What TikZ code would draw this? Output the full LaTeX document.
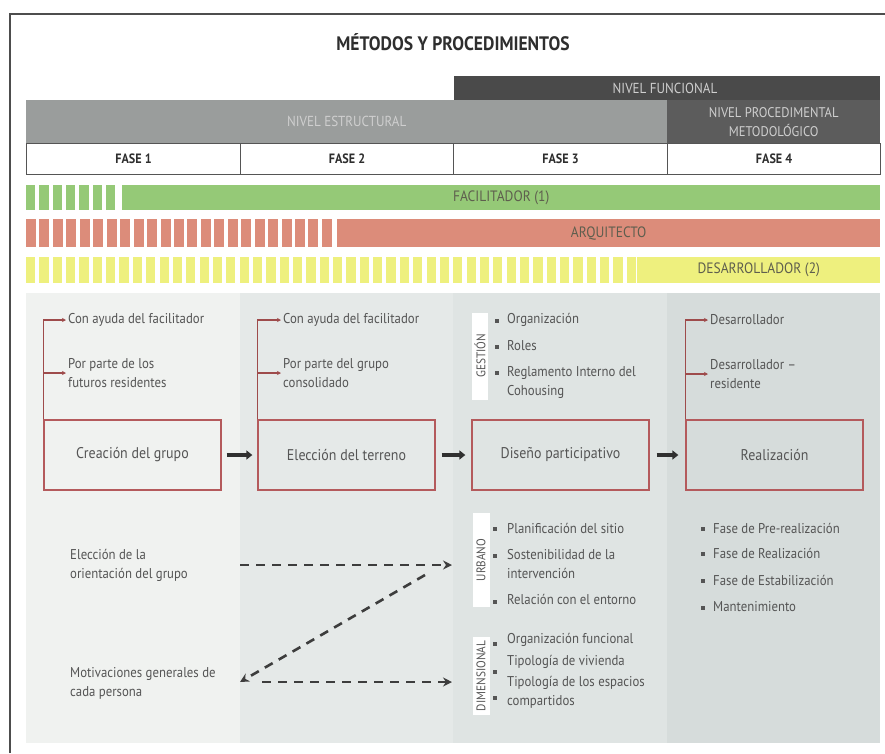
\documentclass[tikz,border=0pt]{standalone}
\usepackage{fontspec}
\setmainfont{PT Sans}[FakeStretch=0.9]
\usetikzlibrary{arrows.meta}
\definecolor{framec}{HTML}{4D4D4D}
\definecolor{titlec}{HTML}{2E2E2E}
\definecolor{nfc}{HTML}{4A4A4A}
\definecolor{nec}{HTML}{9A9D9C}
\definecolor{npc}{HTML}{5C5C5C}
\definecolor{hdtext}{HTML}{CFCFCF}
\definecolor{fasec}{HTML}{555555}
\definecolor{greenc}{HTML}{95C977}
\definecolor{redc}{HTML}{DC8C7A}
\definecolor{yellowc}{HTML}{EEF07E}
\definecolor{bartext}{HTML}{5E5E4E}
\definecolor{colA}{HTML}{F0F2F0}
\definecolor{colB}{HTML}{E5E9E8}
\definecolor{colC}{HTML}{DFE4E3}
\definecolor{colD}{HTML}{D6DCDB}
\definecolor{boxc}{HTML}{B45A5C}
\definecolor{branchc}{HTML}{9E4B4B}
\definecolor{txtc}{HTML}{555555}
\definecolor{arrc}{HTML}{303030}
\definecolor{dashc}{HTML}{3D3D3D}
\tikzset{
  hdbar/.style={rectangle, inner sep=0pt, anchor=north west, text=hdtext, font=\fontsize{14.5}{16}\selectfont, align=center},
  fasecell/.style={rectangle, draw=fasec, line width=1.2pt, fill=white, inner sep=0pt, anchor=north west, minimum height=31pt, font=\bfseries\fontsize{13.5}{15}\selectfont, text=titlec},
  rolebar/.style={rectangle, inner sep=0pt, anchor=north west, text=bartext, font=\fontsize{15}{17}\selectfont},
  phasebox/.style={rectangle, draw=boxc, line width=1.3pt, minimum width=177pt, minimum height=70pt, inner sep=0pt, text=txtc, font=\fontsize{15.5}{17}\selectfont},
  ptext/.style={anchor=west, inner sep=0pt, align=left, text=txtc, font=\fontsize{14.2}{19}\selectfont},
  branch/.style={draw=branchc, line width=1.2pt, -{Stealth[length=4pt,width=4pt]}},
  fatarrow/.style={draw=arrc, line width=3.5pt, -{Triangle[length=6pt,width=9pt]}},
  dasharrow/.style={draw=dashc, line width=2.6pt, dash pattern=on 9pt off 7pt, -{Stealth[length=9pt,width=9pt]}},
  sidelab/.style={rectangle, fill=white, rotate=90, inner sep=0pt, text=txtc, font=\fontsize{12.5}{13}\selectfont},
  bul/.style={rectangle, fill=txtc, minimum size=3.2pt, inner sep=0pt}
}
\begin{document}
\begin{tikzpicture}[x=1pt,y=-1pt]
\useasboundingbox (0,0) rectangle (885,753);
\fill[white] (0,0) rectangle (885,753);
% frame
\draw[framec, line width=1.6pt] (10,753) -- (10,14) -- (885,14);
% title
\node[font=\bfseries\fontsize{19.5}{21}\selectfont, text=titlec] (title) at (453,42) {MÉTODOS Y PROCEDIMIENTOS};
% header levels
\node[hdbar, fill=nfc, minimum width=426pt, minimum height=24pt] (nf) at (454,76) {};
\node[text=hdtext, font=\fontsize{14.5}{16}\selectfont] (nft) at (665,88) {NIVEL FUNCIONAL};
\node[hdbar, fill=nec, minimum width=641pt, minimum height=43pt] (ne) at (26,100) {NIVEL ESTRUCTURAL};
\node[hdbar, fill=npc, minimum width=213pt, minimum height=43pt, font=\fontsize{14}{19}\selectfont] (np) at (667,100) {NIVEL PROCEDIMENTAL\\METODOLÓGICO};
% fases
\node[fasecell, minimum width=214pt] (f1) at (26,143) {FASE 1};
\node[fasecell, minimum width=213pt] (f2) at (240,143) {FASE 2};
\node[fasecell, minimum width=214pt] (f3) at (453,143) {FASE 3};
\node[fasecell, minimum width=213pt] (f4) at (667,143) {FASE 4};
% role bars
\foreach \i in {0,...,6} \fill[greenc] (26+13.35*\i,185) rectangle ++(9.2,25);
\node[rolebar, fill=greenc, minimum width=758pt, minimum height=25pt] (fac) at (122,185) {FACILITADOR (1)};
\foreach \i in {0,...,22} \fill[redc] (26+13.45*\i,219) rectangle ++(10,28);
\node[rolebar, fill=redc, minimum width=543pt, minimum height=28pt] (arq) at (337,219) {ARQUITECTO};
\foreach \i in {0,...,45} \fill[yellowc] (26+13.35*\i,257) rectangle ++(9.2,26);
\node[rolebar, fill=yellowc, minimum width=243pt, minimum height=26pt] (des) at (637,257) {DESARROLLADOR (2)};
% panel backgrounds
\fill[colA] (26,293) rectangle (240,743);
\fill[colB] (240,293) rectangle (453,743);
\fill[colC] (453,293) rectangle (667,743);
\fill[colD] (667,293) rectangle (880,743);
% phase boxes
\node[phasebox] (b1) at (132.5,455) {Creación del grupo};
\node[phasebox] (b2) at (346.5,455) {Elección del terreno};
\node[phasebox] (b3) at (560.5,455) {Diseño participativo};
\node[phasebox] (b4) at (774.5,455) {Realización};
\draw[fatarrow, shorten <=5pt, shorten >=5pt] (b1) -- (b2);
\draw[fatarrow, shorten <=6pt, shorten >=6pt] (b2) -- (b3);
\draw[fatarrow, shorten <=7pt, shorten >=7pt] (b3) -- (b4);
% column 1
\node[ptext] (c1a) at (68,320) {Con ayuda del facilitador};
\node[ptext] (c1b) at (68,373) {Por parte de los\\futuros residentes};
\draw[branch, shorten >=2pt] (b1.north west) |- (c1a.west);
\draw[branch, shorten >=2pt] (c1b.west -| b1.west) -- (c1b.west);
% column 2
\node[ptext] (c2a) at (283,320) {Con ayuda del facilitador};
\node[ptext] (c2b) at (283,373) {Por parte del grupo\\consolidado};
\draw[branch, shorten >=2pt] (b2.north west) |- (c2a.west);
\draw[branch, shorten >=2pt] (c2b.west -| b2.west) -- (c2b.west);
% column 4 top
\node[ptext] (c4a) at (710,320) {Desarrollador};
\node[ptext] (c4b) at (710,374) {Desarrollador –\\residente};
\draw[branch, shorten >=2pt] (b4.north west) |- (c4a.west);
\draw[branch, shorten >=2pt] (c4b.west -| b4.west) -- (c4b.west);
% column 3 gestion
\node[sidelab, minimum width=87pt, minimum height=16pt] (lg) at (480,356) {GESTIÓN};
\node[bul] (g1b) at (497,321) {};
\node[ptext] (g1) at (507,320) {Organización};
\node[bul] (g2b) at (497,347) {};
\node[ptext] (g2) at (507,346) {Roles};
\node[bul] (g3b) at (497,373) {};
\node[ptext] (g3) at (507,382) {Reglamento Interno del\\Cohousing};
% urbano
\node[sidelab, minimum width=94pt, minimum height=17pt] (lu) at (481,560) {URBANO};
\node[bul] (u1b) at (495,529) {};
\node[ptext] (u1) at (507,528) {Planificación del sitio};
\node[bul] (u2b) at (495,556) {};
\node[ptext] (u2) at (507,564) {Sostenibilidad de la\\intervención};
\node[bul] (u3b) at (495,602) {};
\node[ptext] (u3) at (507,599) {Relación con el entorno};
% dimensional
\node[sidelab, minimum width=78pt, minimum height=17pt] (ld) at (481,676) {DIMENSIONAL};
\node[bul] (d1b) at (495,644) {};
\node[ptext] (d1) at (507,640) {Organización funcional};
\node[bul] (d2b) at (495,672) {};
\node[ptext] (d2) at (507,662) {Tipología de vivienda};
\node[bul] (d3b) at (495,698) {};
\node[ptext] (d3) at (507,692) {Tipología de los espacios\\compartidos};
% column 4 bottom
\node[bul] (r1b) at (703,529) {};
\node[ptext] (r1) at (713,528) {Fase de Pre-realización};
\node[bul] (r2b) at (703,554) {};
\node[ptext] (r2) at (713,553) {Fase de Realización};
\node[bul] (r3b) at (703,581) {};
\node[ptext] (r3) at (713,580) {Fase de Estabilización};
\node[bul] (r4b) at (703,608) {};
\node[ptext] (r4) at (713,607) {Mantenimiento};
% lower left
\node[ptext] (e1) at (70,565) {Elección de la\\orientación del grupo};
\node[ptext] (m1) at (70,683) {Motivaciones generales de\\cada persona};
\coordinate (e1s) at (240,565);
\coordinate (ua) at (452,565);
\coordinate (diag) at (425,575);
\coordinate (m1s) at (240,682);
\coordinate (m1h) at (262,682);
\coordinate (da) at (452,682);
\draw[dasharrow] (e1s) -- (ua);
\draw[dasharrow] (diag) -- (m1s);
\draw[dasharrow] (m1h) -- (da);
\end{tikzpicture}
\end{document}
